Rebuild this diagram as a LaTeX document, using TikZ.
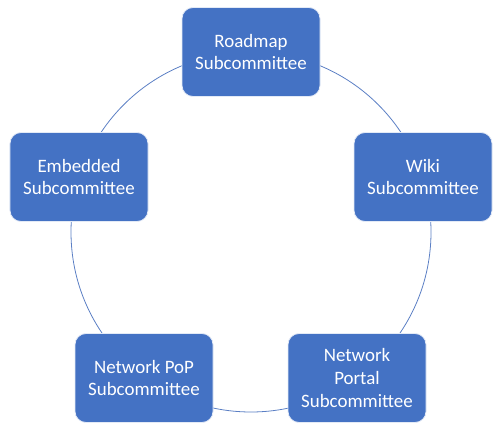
\documentclass[tikz,border=0pt]{standalone}
\usepackage{fontspec}
\setmainfont{Carlito}
\definecolor{boxblue}{HTML}{4472C4}
\definecolor{ringblue}{HTML}{5B7FC4}
\begin{document}
\begin{tikzpicture}[x=1bp,y=-1bp,
  cbox/.style={rectangle, rounded corners=11bp, fill=boxblue, draw=white!85!boxblue, line width=0.8bp,
    minimum width=138bp, minimum height=89bp, inner sep=2bp, align=center, text=white,
    font=\fontsize{19}{23}\selectfont}]
\useasboundingbox (0,0) rectangle (500,434);
\draw[ringblue, line width=0.8bp] (251,232) circle[radius=180bp];
\node[cbox] (road) at (251,52) {Roadmap\\Subcommittee};
\node[cbox] (wiki) at (423,177) {Wiki\\Subcommittee};
\node[cbox] (portal) at (357,378) {Network\\Portal\\Subcommittee};
\node[cbox] (pop) at (144,378) {Network PoP\\Subcommittee};
\node[cbox] (emb) at (79,177) {Embedded\\Subcommittee};
\end{tikzpicture}
\end{document}
